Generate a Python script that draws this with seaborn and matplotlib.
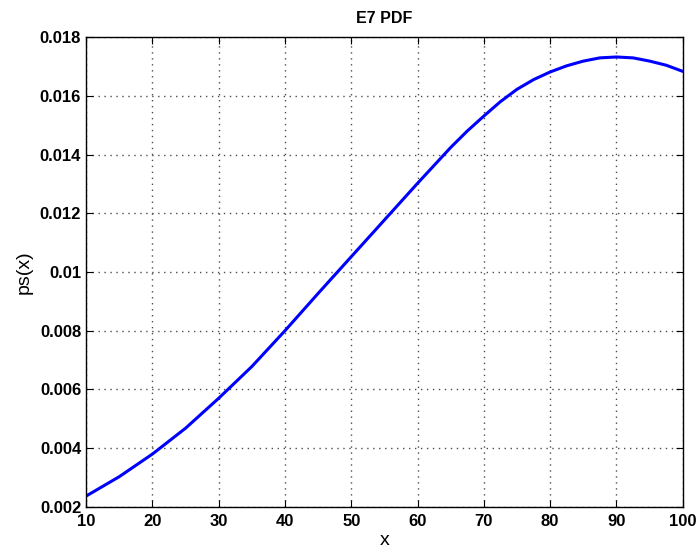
import matplotlib
matplotlib.use("Agg")
import matplotlib.pyplot as plt
import seaborn as sns

# values
x_vals = [10, 15, 20, 25, 30, 35, 40, 45, 50, 55, 60, 65, 67.5, 70, 72.5, 75, 77.5,
          80, 82.5, 85, 87.5, 90, 92.5, 95, 97.5, 100]
pdf_vals = [0.00237, 0.00303, 0.00380, 0.00468, 0.00570, 0.00678, 0.00800, 0.00927,
            0.01052, 0.01177, 0.01302, 0.01424, 0.01480, 0.01531, 0.01580, 0.01622,
            0.01655, 0.01681, 0.01702, 0.01718, 0.01729, 0.01732, 0.01729, 0.01718,
            0.01704, 0.01683]
x_ticks = [10, 20, 30, 40, 50, 60, 70, 80, 90, 100]
y_ticks = [0.002, 0.004, 0.006, 0.008, 0.01, 0.012, 0.014, 0.016, 0.018]
y_labels = ["0.002", "0.004", "0.006", "0.008", "0.01", "0.012", "0.014", "0.016", "0.018"]

sns.set_style("ticks")
plt.rcParams['font.family'] = ['Liberation Sans', 'DejaVu Sans']
plt.rcParams.update({'text.color': 'black', 'axes.labelcolor': 'black',
                     'xtick.color': 'black', 'ytick.color': 'black',
                     'axes.edgecolor': 'black'})

fig = plt.figure(figsize=(6.96, 5.5), dpi=100)
ax = fig.add_axes([0.1236, 0.0782, 0.8574, 0.8545])

sns.lineplot(x=x_vals, y=pdf_vals, ax=ax, color='#0000ff', linewidth=2.2)

ax.set_xlim(10, 100)
ax.set_ylim(0.002, 0.018)
ax.set_xticks(x_ticks)
ax.set_yticks(y_ticks)
ax.set_yticklabels(y_labels)
ax.tick_params(direction='in', top=True, right=True, labelsize=12, length=5, width=0.8)
ax.tick_params(axis='x', pad=5)
ax.tick_params(axis='y', pad=3.5)
for lab in ax.get_xticklabels() + ax.get_yticklabels():
    lab.set_fontweight('bold')
ax.grid(True, linestyle=(0, (1, 3.3)), color='0.3', linewidth=1.0)
for s in ax.spines.values():
    s.set_linewidth(1.0)

ax.set_title("E7 PDF", fontsize=11.5, fontweight='bold', pad=10)
ax.set_xlabel("x", fontsize=14, labelpad=2)
ax.set_ylabel("ps(x)", fontsize=14, labelpad=5)

fig.savefig("out.png", dpi=100)
